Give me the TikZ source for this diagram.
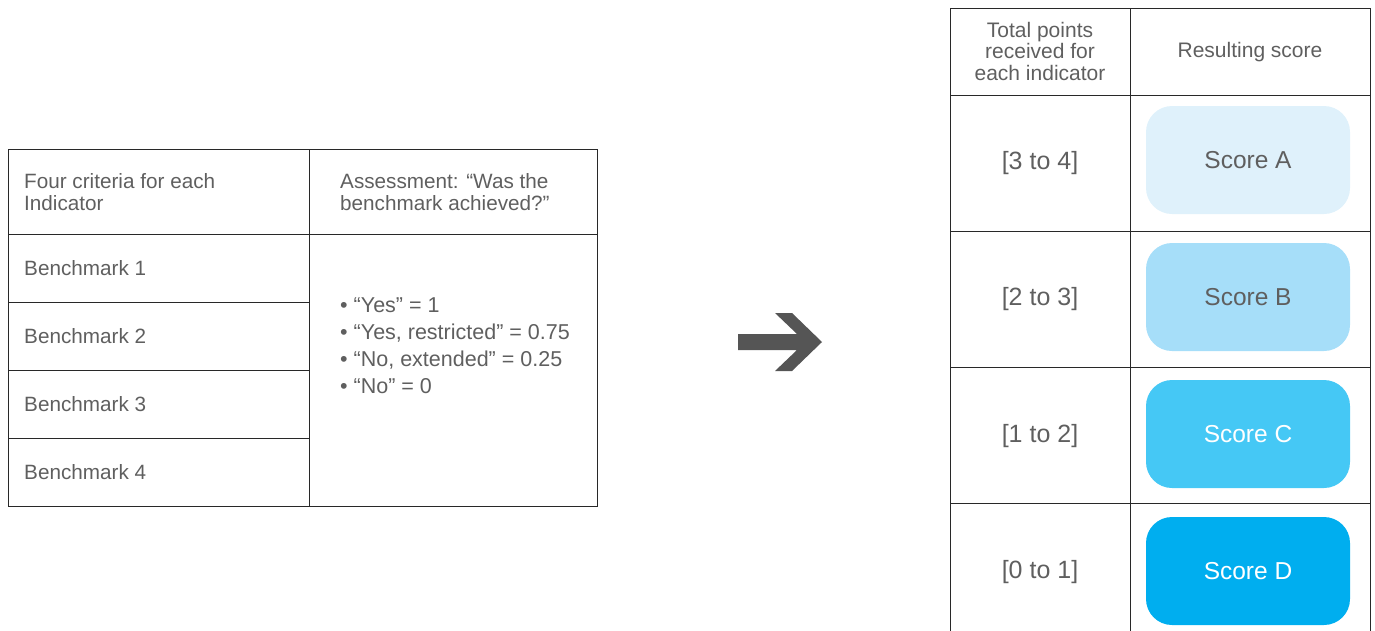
\documentclass[tikz,border=0pt]{standalone}
\usepackage{fontspec}
\setmainfont{Liberation Sans}
\definecolor{txt}{RGB}{95,95,95}
\definecolor{rule}{RGB}{40,40,40}
\definecolor{arrowc}{RGB}{85,85,85}
\definecolor{scA}{RGB}{223,241,251}
\definecolor{scB}{RGB}{166,222,249}
\definecolor{scC}{RGB}{69,200,245}
\definecolor{scD}{RGB}{0,174,239}
\tikzset{
  grid/.style={draw=rule, line width=0.9pt},
  lefttext/.style={anchor=west, text=txt, font=\fontsize{20.7}{22}\selectfont, align=left, inner sep=0pt},
  righttext/.style={anchor=center, text=txt, font=\fontsize{21}{21.5}\selectfont, align=center, inner sep=0pt},
  rangetext/.style={anchor=center, text=txt, font=\fontsize{25}{28}\selectfont, inner sep=0pt},
  scorebox/.style={rounded corners=26pt, minimum width=204pt, minimum height=108pt, inner sep=0pt, font=\fontsize{24.5}{28}\selectfont},
}
\begin{document}
\begin{tikzpicture}[x=1pt,y=-1pt]
\useasboundingbox (0,0) rectangle (1375,630);
% left table
\draw[grid] (8,149) rectangle (597,506);
\draw[grid] (309,149) -- (309,506);
\draw[grid] (8,234) -- (597,234);
\draw[grid] (8,302) -- (309,302);
\draw[grid] (8,370) -- (309,370);
\draw[grid] (8,438) -- (309,438);
\node[lefttext] (h1) at (24,192) {Four criteria for each\\Indicator};
\node[lefttext] (h2) at (340,192) {Assessment: “Was the\\benchmark achieved?”};
\node[lefttext] (b1) at (24,268) {Benchmark 1};
\node[lefttext] (b2) at (24,336) {Benchmark 2};
\node[lefttext] (b3) at (24,404) {Benchmark 3};
\node[lefttext] (b4) at (24,472) {Benchmark 4};
\node[lefttext, font=\fontsize{21.5}{27}\selectfont] (bl) at (340,346) {\textbullet\ “Yes” = 1\\\textbullet\ “Yes, restricted” = 0.75\\\textbullet\ “No, extended” = 0.25\\\textbullet\ “No” = 0};
% arrow
\fill[arrowc] (738,334) -- (797,334) -- (775,313) -- (792,313) -- (822,342) -- (792,371) -- (775,371) -- (797,350) -- (738,350) -- cycle;
% right table
\draw[grid] (950,640) -- (950,8) -- (1370,8) -- (1370,640);
\draw[grid] (1130,8) -- (1130,640);
\draw[grid] (950,95) -- (1370,95);
\draw[grid] (950,231) -- (1370,231);
\draw[grid] (950,367) -- (1370,367);
\draw[grid] (950,503) -- (1370,503);
\node[righttext] (rh1) at (1040,51) {Total points\\received for\\each indicator};
\node[righttext] (rh2) at (1250,52) {Resulting score};
\node[rangetext] (r1) at (1040,163) {[3 to 4]};
\node[rangetext] (r2) at (1040,299) {[2 to 3]};
\node[rangetext] (r3) at (1040,436) {[1 to 2]};
\node[rangetext] (r4) at (1040,572) {[0 to 1]};
\node[scorebox, fill=scA, text=txt] (sA) at (1248,160) {Score A};
\node[scorebox, fill=scB, text=txt] (sB) at (1248,297) {Score B};
\node[scorebox, fill=scC, text=white] (sC) at (1248,434) {Score C};
\node[scorebox, fill=scD, text=white] (sD) at (1248,571) {Score D};
\end{tikzpicture}
\end{document}
